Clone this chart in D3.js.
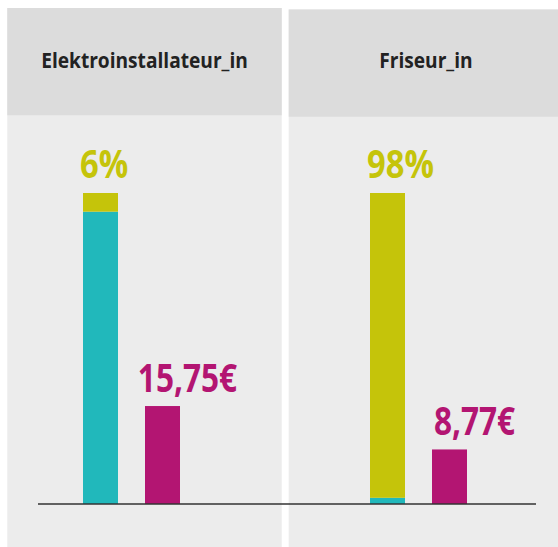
<!DOCTYPE html>
<html>
<head>
<meta charset="utf-8">
<script src="https://cdn.jsdelivr.net/npm/d3@7/dist/d3.min.js"></script>
<style>
  html, body { margin: 0; padding: 0; background: #ffffff; }
  svg { display: block; }
</style>
</head>
<body>
<div id="chart"></div>
<script>
// ---- data ----
const categories = ["Elektroinstallateur_in", "Friseur_in"];
const femaleShare = [6, 98];      // percent (olive segment, top)
const maleShare = [94, 2];        // percent (teal segment, bottom)
const hourlyWage = [15.75, 8.77]; // euro
const barKeys = ["share", "wage"];

const W = 558, H = 547;
const svg = d3.select("#chart").append("svg").attr("width", W).attr("height", H);

const colors = { male: "#21b8bb", female: "#c5c40a", wage: "#b31572",
                 header: "#dcdcdc", body: "#ececec", text: "#222222", axis: "#333333" };
const fontFam = "'Open Sans', 'Noto Sans', 'DejaVu Sans Condensed', sans-serif";

// ---- layout ----
const baseY = 504, topY = 193;
const panels = [
  { x: 7.3, y: 8, w: 274.4, headerH: 107.3 },
  { x: 288.7, y: 9.5, w: 274.4, headerH: 107.2 }
];

// ---- scales ----
const xGroup = d3.scaleBand().domain(categories).range([40, 614]);
const xInner = d3.scaleBand().domain(barKeys).range([43, 140]).paddingInner(27 / 62).paddingOuter(0);
const yPct = d3.scaleLinear().domain([0, 100]).range([baseY, topY]);
const yWage = d3.scaleLinear().domain([0, 50]).range([baseY, topY]);

const fmtPct = d => d3.format("d")(d) + "%";
const deLocale = d3.formatLocale({ decimal: ",", thousands: ".", grouping: [3], currency: ["", "€"] });
const fmtWage = deLocale.format(",.2f");

function label(sel, x, y, size, weight, fill, anchor, sx, txt) {
  sel.append("text")
    .attr("transform", `translate(${x},${y}) scale(${sx},1)`)
    .attr("text-anchor", anchor)
    .attr("font-family", fontFam).attr("font-weight", weight).attr("font-size", size)
    .attr("fill", fill)
    .text(txt);
}

// ---- panels ----
panels.forEach((p, i) => {
  svg.append("rect").attr("x", p.x).attr("y", p.y).attr("width", p.w).attr("height", H - p.y)
    .attr("fill", colors.body);
  svg.append("rect").attr("x", p.x).attr("y", p.y).attr("width", p.w).attr("height", p.headerH)
    .attr("fill", colors.header);
  label(svg, p.x + p.w / 2, 68, 21.5, 700, colors.text, "middle", 0.89, categories[i]);
});

// ---- stacked share bars ----
const stackData = categories.map((c, i) => ({ cat: c, male: maleShare[i], female: femaleShare[i] }));
const series = d3.stack().keys(["male", "female"])(stackData);
const gBars = svg.append("g");
series.forEach(s => {
  gBars.selectAll(null).data(s).join("rect")
    .attr("x", d => xGroup(d.data.cat) + xInner("share"))
    .attr("y", d => yPct(d[1]))
    .attr("width", xInner.bandwidth())
    .attr("height", d => yPct(d[0]) - yPct(d[1]))
    .attr("fill", colors[s.key]);
});

// ---- wage bars ----
gBars.selectAll(null).data(categories).join("rect")
  .attr("x", (c) => xGroup(c) + xInner("wage"))
  .attr("y", (c, i) => yWage(hourlyWage[i]))
  .attr("width", xInner.bandwidth())
  .attr("height", (c, i) => baseY - yWage(hourlyWage[i]))
  .attr("fill", colors.wage);

// ---- labels ----
categories.forEach((c, i) => {
  label(svg, xGroup(c) + xInner("share") - 3, yPct(100) - 15, 39, 700, colors.female, "start", 0.84,
        fmtPct(femaleShare[i]));
  label(svg, xGroup(c) + xInner("wage") + xInner.bandwidth() / 2 + 25, yWage(hourlyWage[i]) - 14,
        39, 700, colors.wage, "middle", 0.81, fmtWage(hourlyWage[i]) + "€");
});

// ---- baseline ----
svg.append("line").attr("x1", 38).attr("x2", 536).attr("y1", baseY).attr("y2", baseY)
  .attr("stroke", colors.axis).attr("stroke-width", 1.5);
</script>
</body>
</html>
